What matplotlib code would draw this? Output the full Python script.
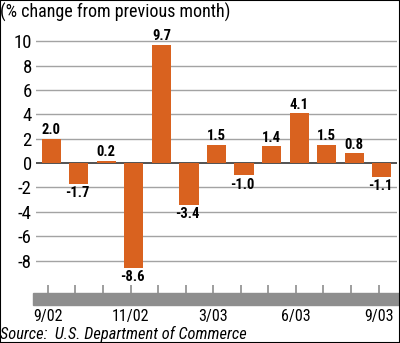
import matplotlib.pyplot as plt
from matplotlib.patches import Rectangle

months = ['9/02', '10/02', '11/02', '12/02', '1/03', '2/03', '3/03',
          '4/03', '5/03', '6/03', '7/03', '8/03', '9/03']
changes = [2.0, -1.7, 0.2, -8.6, 9.7, -3.4, 1.5, -1.0, 1.4, 4.1, 1.5, 0.8, -1.1]
label_pos = [0, 3, 6, 9, 12]
label_text = ['9/02', '11/02', '3/03', '6/03', '9/03']

plt.rcParams['font.family'] = ['Roboto Condensed', 'DejaVu Sans']

bar_color = '#d9621f'
grid_color = '#a3a3a3'
band_color = '#8e8e8e'

fig = plt.figure(figsize=(4.0, 3.43), dpi=100)
ax = fig.add_axes([36 / 400, 58 / 343, 361 / 400, 256 / 343])

x = list(range(len(months)))
ax.bar(x, changes, width=0.7, color=bar_color, zorder=3)

for xi, v in zip(x, changes):
    if v >= 0:
        ax.text(xi, v + 0.12, f'{v:.1f}', ha='center', va='bottom',
                fontsize=10.5, fontweight='bold', zorder=4)
    else:
        ax.text(xi - 0.05, v - 0.2, f'{v:.1f}', ha='center', va='top',
                fontsize=10.5, fontweight='bold', zorder=4)

ax.set_ylim(-10, 11)
ax.set_xlim(-0.55, 12.55)
yt = list(range(-8, 11, 2))
ax.set_yticks(yt)
ax.set_yticklabels([str(t) for t in yt], fontsize=13.5)
for t in yt:
    if t == 0:
        ax.axhline(t, color='#333333', lw=1.2, zorder=2)
    else:
        ax.axhline(t, color=grid_color, lw=1.0, zorder=1)

ax.set_xticks([xi - 0.12 for xi in x])
ax.set_xticklabels([label_text[label_pos.index(i)] if i in label_pos else ''
                    for i in x], fontsize=11.5)
ax.tick_params(axis='x', direction='out', length=6, width=1.2, color=band_color, pad=11)
ax.tick_params(axis='y', length=0, pad=3)
for s in ax.spines.values():
    s.set_visible(False)

# gray band under the ticks
fig.patches.append(Rectangle((33 / 400, 38 / 343), 367 / 400, 12 / 343,
                             transform=fig.transFigure, color=band_color, zorder=0))

fig.text(0.0, 1 - 18 / 343, '(% change from previous month)', fontsize=13,
         ha='left', va='baseline')
fig.text(0.0, 1 - 339 / 343, 'Source:  U.S. Department of Commerce', fontsize=11.8,
         style='italic', ha='left', va='baseline')

fig.patches.append(Rectangle((0, 0), 1, 1, transform=fig.transFigure, fill=False,
                             edgecolor='black', lw=1.5))

fig.savefig('out.png', dpi=100)
